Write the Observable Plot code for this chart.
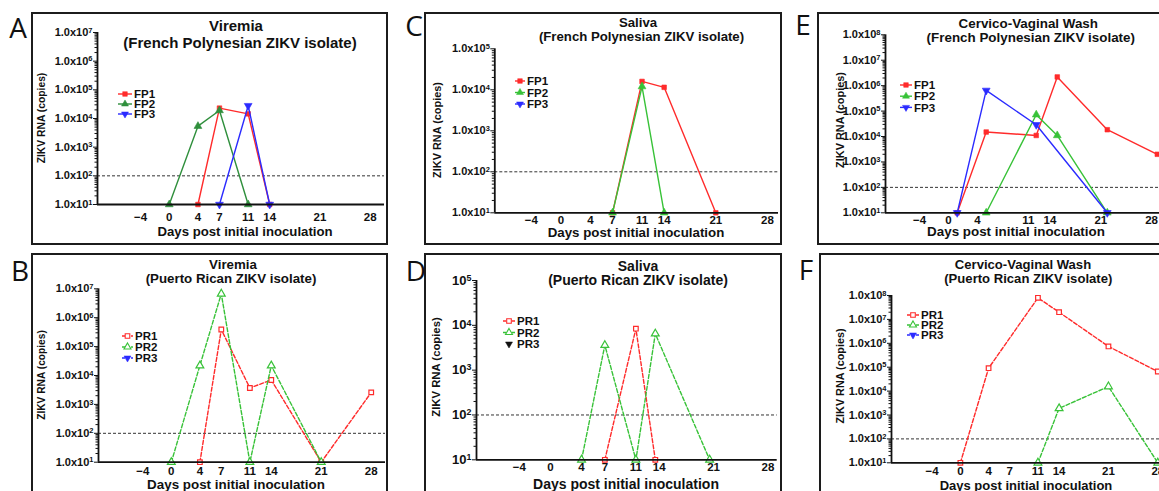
<!DOCTYPE html>
<html><head><meta charset="utf-8">
<script src="https://cdn.jsdelivr.net/npm/d3@7"></script>
<script src="https://cdn.jsdelivr.net/npm/@observablehq/plot@0.6"></script>
<style>
html,body{margin:0;padding:0;background:#fff;}
body{width:1159px;height:491px;overflow:hidden;position:relative;font-family:"Liberation Sans",Arial,sans-serif;color:#111;}
.box{position:absolute;border:2px solid #1c1c1c;box-sizing:border-box;}
.letter{position:absolute;font-family:"Open Sans",sans-serif;font-size:28px;line-height:1;transform:translate(-50%,-50%);color:#111;}
.t{position:absolute;font-weight:bold;white-space:nowrap;transform:translate(-50%,-50%);line-height:1;}
.rot{transform:translate(-50%,-50%) rotate(-90deg);}
svg.plot{position:absolute;overflow:visible;}
svg.leg{position:absolute;overflow:visible;}
</style></head>
<body>
<script>
// ---------- data ----------
const xTicks  = [-4, 0, 4, 7, 11, 14, 21, 28];
const xTicksE = [-4, 0, 4, 11, 14, 21, 28];
const namesFP = ["FP1", "FP2", "FP3"];
const namesPR = ["PR1", "PR2", "PR3"];
const threshold = 100;

// A: Viremia, French Polynesian
const aFP1Days = [4, 7, 11, 14];      const aFP1Vals = [1e1, 2.3e4, 1.45e4, 1e1];
const aFP2Days = [0, 4, 7, 11];       const aFP2Vals = [1e1, 5.4e3, 1.9e4, 1e1];
const aFP3Days = [7, 11, 14];         const aFP3Vals = [1e1, 2.8e4, 1e1];
// B: Viremia, Puerto Rican
const bPR1Days = [4, 7, 11, 14, 21, 28]; const bPR1Vals = [1e1, 3.9e5, 3.7e3, 7e3, 1e1, 2.6e3];
const bPR2Days = [0, 4, 7, 11, 14, 21];  const bPR2Vals = [1e1, 2.2e4, 6.7e6, 1e1, 2.2e4, 1e1];
const bPR3Days = [];                     const bPR3Vals = [];
// C: Saliva, French Polynesian
const cFP1Days = [7, 11, 14, 21];     const cFP1Vals = [1e1, 1.6e4, 1.15e4, 1e1];
const cFP2Days = [7, 11, 14];         const cFP2Vals = [1e1, 1.2e4, 1e1];
const cFP3Days = [];                  const cFP3Vals = [];
// D: Saliva, Puerto Rican
const dPR1Days = [7, 11, 13.5];            const dPR1Vals = [1e1, 8.4e3, 1e1];
const dPR2Days = [4, 7, 11, 13.5, 20.5];   const dPR2Vals = [1e1, 3.6e3, 1e1, 6.5e3, 1e1];
const dPR3Days = [];                       const dPR3Vals = [];
// E: Cervico-Vaginal Wash, French Polynesian
const eFP1Days = [1.2, 5.2, 12.1, 15, 21.9, 28.8]; const eFP1Vals = [1e1, 1.5e4, 1.1e4, 2.2e6, 1.85e4, 2e3];
const eFP2Days = [5.2, 12.1, 15, 21.9];            const eFP2Vals = [1e1, 7.2e4, 1.1e4, 1e1];
const eFP3Days = [1.2, 5.2, 12.1, 21.9];           const eFP3Vals = [1e1, 6.5e5, 2.9e4, 1e1];
// F: Cervico-Vaginal Wash, Puerto Rican
const fPR1Days = [0, 4, 11, 14, 21, 28]; const fPR1Vals = [1e1, 9.1e4, 8e7, 2e7, 7.4e5, 6.6e4];
const fPR2Days = [11, 14, 21, 28];       const fPR2Vals = [1e1, 1.9e3, 1.55e4, 1e1];
const fPR3Days = [];                     const fPR3Vals = [];

// ---------- styles ----------
const RED = "#ff2b2b", GREEN_D = "#2f8f3c", GREEN = "#38c238", BLUE = "#2b2bff", BLACK = "#111";
const sqrt3 = Math.sqrt(3);
const triangleDown = {draw(ctx, size) {
  const y = -Math.sqrt(size / (sqrt3 * 3));
  ctx.moveTo(0, -y * 2); ctx.lineTo(-sqrt3 * y, y); ctx.lineTo(sqrt3 * y, y); ctx.closePath();
}};
const SYM = {square: d3.symbolSquare, triangle: d3.symbolTriangle, triangleDown};

const fmtSci = d => "1.0x10^" + Math.round(Math.log10(d));
const fmtPow = d => "10^" + Math.round(Math.log10(d));

const panels = [
  {letter:"A", letterPos:[18,27], box:[31,12,357,233], h:233, m:[20,4,41,66], xDomain:[-10,30], ticks:xTicks, yMax:1e7, fmt:fmtSci, yFont:11, xPad:8,
   title:["Viremia","(French Polynesian ZIKV isolate)"], titlePos:[[236,25],[240,42]], titleFont:15,
   yTitle:[42,118,10.3], xTitle:[245,232,13.2],
   legend:{x:118, y:94, dy:10, len:14, font:11.5},
   series:[
     {name:namesFP[0], days:aFP1Days, vals:aFP1Vals, color:RED, sym:"square"},
     {name:namesFP[1], days:aFP2Days, vals:aFP2Vals, color:GREEN_D, sym:"triangle"},
     {name:namesFP[2], days:aFP3Days, vals:aFP3Vals, color:BLUE, sym:"triangleDown"}]},
  {letter:"B", letterPos:[20,270], box:[31,253,357,260], h:250, m:[35.3,3,41.3,67], xDomain:[-10.2,30], ticks:xTicks, yMax:1e7, fmt:fmtSci, yFont:11, xPad:4.3,
   title:["Viremia","(Puerto Rican ZIKV isolate)"], titlePos:[[233,265],[231,279]], titleFont:13.3,
   yTitle:[42,375,10.2], xTitle:[236,484.5,13.4],
   legend:{x:122, y:336, dy:11, len:11, font:11.5},
   series:[
     {name:namesPR[0], days:bPR1Days, vals:bPR1Vals, color:RED, sym:"square", open:true, dash:true},
     {name:namesPR[1], days:bPR2Days, vals:bPR2Vals, color:GREEN, sym:"triangle", open:true, dash:true},
     {name:namesPR[2], days:bPR3Days, vals:bPR3Vals, color:BLUE, sym:"triangleDown", dash:true}]},
  {letter:"C", letterPos:[414,25], box:[424,12,358,233], h:233, m:[36.3,4,32.7,70.3], xDomain:[-8.96,29.5], ticks:xTicks, yMax:1e5, fmt:fmtSci, yFont:11, xPad:3.5,
   title:["Saliva","(French Polynesian ZIKV isolate)"], titlePos:[[638,23.4],[641.5,37.2]], titleFont:13.2,
   yTitle:[436.7,130,10.9], xTitle:[636,233,13.3],
   legend:{x:515, y:81, dy:11.5, len:10, font:11.5},
   series:[
     {name:namesFP[0], days:cFP1Days, vals:cFP1Vals, color:RED, sym:"square"},
     {name:namesFP[1], days:cFP2Days, vals:cFP2Vals, color:GREEN, sym:"triangle"},
     {name:namesFP[2], days:cFP3Days, vals:cFP3Vals, color:BLUE, sym:"triangleDown"}]},
  {letter:"D", letterPos:[416,270], box:[424,253,358,260], h:250, m:[27,5.3,43.7,52], xDomain:[-9.53,29.2], ticks:xTicks, yMax:1e5, fmt:fmtPow, yFont:13, xPad:2.8,
   title:["Saliva","(Puerto Rican ZIKV isolate)"], titlePos:[[638,265.7],[638,280]], titleFont:14,
   yTitle:[436.7,366.7,11.3], xTitle:[626,483.5,14],
   legend:{x:503, y:320.5, dy:11.5, len:12, font:11.5},
   series:[
     {name:namesPR[0], days:dPR1Days, vals:dPR1Vals, color:RED, sym:"square", open:true, dash:true},
     {name:namesPR[1], days:dPR2Days, vals:dPR2Vals, color:GREEN, sym:"triangle", open:true, dash:true},
     {name:namesPR[2], days:dPR3Days, vals:dPR3Vals, color:BLACK, sym:"triangleDown", noLine:true}]},
  {letter:"E", letterPos:[803,24], box:[817,12,357,233], h:233, m:[22.3,5,32.7,68], xDomain:[-8.69,30.48], ticks:xTicksE, yMax:1e8, fmt:fmtSci, yFont:11, xPad:2.8,
   title:["Cervico-Vaginal Wash","(French Polynesian ZIKV isolate)"], titlePos:[[1028.3,24],[1030.8,38.3]], titleFont:13.4,
   yTitle:[840,120,10.9], xTitle:[1016,232.3,13.4],
   legend:{x:900, y:85, dy:11.2, len:12, font:11.5},
   series:[
     {name:namesFP[0], days:eFP1Days, vals:eFP1Vals, color:RED, sym:"square"},
     {name:namesFP[1], days:eFP2Days, vals:eFP2Vals, color:GREEN, sym:"triangle"},
     {name:namesFP[2], days:eFP3Days, vals:eFP3Vals, color:BLUE, sym:"triangleDown"}]},
  {letter:"F", letterPos:[806,269], box:[819,253,357,260], h:250, m:[42,4.6,40.7,72], xDomain:[-9.77,30], ticks:xTicks, yMax:1e8, fmt:fmtSci, yFont:11, xPad:3.8,
   title:["Cervico-Vaginal Wash","(Puerto Rican ZIKV isolate)"], titlePos:[[1023,265],[1028.3,279]], titleFont:13.1,
   yTitle:[840,375.8,10.8], xTitle:[1026,484.5,13],
   legend:{x:906.7, y:315, dy:10, len:12, font:11.5},
   series:[
     {name:namesPR[0], days:fPR1Days, vals:fPR1Vals, color:RED, sym:"square", open:true, dash:true},
     {name:namesPR[1], days:fPR2Days, vals:fPR2Vals, color:GREEN, sym:"triangle", open:true, dash:true},
     {name:namesPR[2], days:fPR3Days, vals:fPR3Vals, color:BLUE, sym:"triangleDown", dash:true}]}
];

function addText(str, x, y, size, cls) {
  const d = document.createElement("div");
  d.className = "t" + (cls ? " " + cls : "");
  d.textContent = str; d.style.left = x + "px"; d.style.top = y + "px"; d.style.fontSize = size + "px";
  document.body.appendChild(d);
}

function supify(svg) {
  svg.querySelectorAll('g[aria-label="y-axis tick label"] text').forEach(t => {
    const s = t.textContent;
    if (!s.includes("^")) return;
    const [base, exp] = s.split("^");
    while (t.firstChild) t.removeChild(t.firstChild);
    t.appendChild(document.createTextNode(base));
    const ts = document.createElementNS("http://www.w3.org/2000/svg", "tspan");
    ts.setAttribute("dy", "-0.45em"); ts.setAttribute("font-size", "0.68em");
    ts.textContent = exp; t.appendChild(ts);
  });
}

for (const p of panels) {
  const [bx, by, bw, bh] = p.box;
  const box = document.createElement("div");
  box.className = "box";
  Object.assign(box.style, {left: bx + "px", top: by + "px", width: bw + "px", height: bh + "px"});
  document.body.appendChild(box);

  const L = document.createElement("div");
  L.className = "letter"; L.textContent = p.letter;
  L.style.left = p.letterPos[0] + "px"; L.style.top = p.letterPos[1] + "px";
  document.body.appendChild(L);

  const eMax = Math.round(Math.log10(p.yMax));
  const majors = d3.range(1, eMax + 1).map(e => Math.pow(10, e));
  const minors = [];
  for (let e = 1; e < eMax; e++) for (let k = 2; k <= 9; k++) minors.push(k * Math.pow(10, e));

  const marks = [Plot.ruleY([threshold], {stroke: "#333", strokeWidth: 1, strokeDasharray: "3,2"})];
  for (const s of p.series) {
    if (!s.days.length) continue;
    const data = s.days.map((d, i) => ({day: d, v: s.vals[i]}));
    marks.push(Plot.line(data, {x: "day", y: "v", stroke: s.color, strokeWidth: 1.4,
      ...(s.dash ? {strokeDasharray: "4,2"} : {})}));
    marks.push(Plot.dot(data, {x: "day", y: "v", symbol: SYM[s.sym], r: s.sym === "square" ? 2.6 : 2.9,
      fill: s.open ? "white" : s.color, stroke: s.color, strokeWidth: s.open ? 1.2 : 0.6}));
  }
  marks.push(Plot.ruleX([p.xDomain[0]], {stroke: "#111", strokeWidth: 1.8}));
  marks.push(Plot.ruleY([10], {stroke: "#111", strokeWidth: 1.8}));
  marks.push(Plot.axisY(minors, {tickSize: 2.5, tickFormat: () => "", label: null, stroke: "#111"}));
  marks.push(Plot.axisY(majors, {tickSize: 4, tickPadding: 1, tickFormat: p.fmt, fontSize: p.yFont, fontWeight: "bold", label: null, stroke: "#111"}));
  marks.push(Plot.axisX(p.ticks, {tickSize: 0, tickPadding: p.xPad, fontSize: 11.5, fontWeight: "bold", label: null}));

  const svg = Plot.plot({
    width: bw, height: p.h,
    marginTop: p.m[0], marginRight: p.m[1], marginBottom: p.m[2], marginLeft: p.m[3],
    x: {domain: p.xDomain, label: null},
    y: {type: "log", domain: [10, p.yMax], label: null},
    style: {fontFamily: '"Liberation Sans", Arial, sans-serif', fontWeight: "bold", color: "#111", background: "transparent", overflow: "visible"},
    marks
  });
  svg.classList.add("plot");
  svg.style.left = bx + "px"; svg.style.top = by + "px";
  supify(svg);
  document.body.appendChild(svg);

  addText(p.title[0], p.titlePos[0][0], p.titlePos[0][1], p.titleFont);
  addText(p.title[1], p.titlePos[1][0], p.titlePos[1][1], p.titleFont);
  addText("ZIKV RNA (copies)", p.yTitle[0], p.yTitle[1], p.yTitle[2], "rot");
  addText("Days post initial inoculation", p.xTitle[0], p.xTitle[1], p.xTitle[2]);

  // legend
  const lg = p.legend;
  const leg = d3.create("svg").attr("class", "leg").attr("width", 80).attr("height", 40)
    .style("left", lg.x + "px").style("top", (lg.y - 6) + "px");
  p.series.forEach((s, i) => {
    const g = leg.append("g").attr("transform", `translate(0,${6 + i * lg.dy})`);
    if (!s.noLine) g.append("line").attr("x1", 0).attr("x2", lg.len).attr("stroke", s.color).attr("stroke-width", 1.4)
      .attr("stroke-dasharray", s.dash ? "3,1.5" : null);
    g.append("path").attr("transform", `translate(${lg.len / 2},0)`)
      .attr("d", d3.symbol(SYM[s.sym], Math.PI * 2.6 * 2.6)())
      .attr("fill", s.open ? "white" : s.color).attr("stroke", s.color).attr("stroke-width", s.open ? 1.1 : 0.5);
    g.append("text").attr("x", lg.len + 2).attr("dy", "0.36em").attr("font-size", lg.font)
      .attr("font-weight", "bold").attr("font-family", '"Liberation Sans", Arial, sans-serif').attr("fill", "#111").text(s.name);
  });
  document.body.appendChild(leg.node());
}
</script>
</body></html>
